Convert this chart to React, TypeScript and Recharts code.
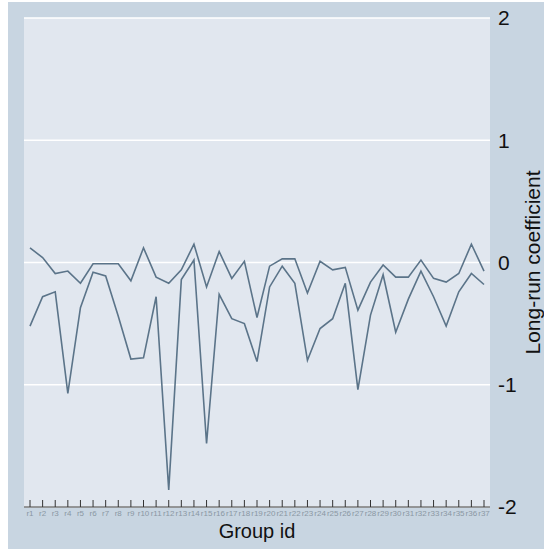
import { LineChart, Line, XAxis, YAxis, CartesianGrid, Label } from "recharts";

const groups = [
  "r1", "r2", "r3", "r4", "r5", "r6", "r7", "r8", "r9", "r10",
  "r11", "r12", "r13", "r14", "r15", "r16", "r17", "r18", "r19", "r20",
  "r21", "r22", "r23", "r24", "r25", "r26", "r27", "r28", "r29", "r30",
  "r31", "r32", "r33", "r34", "r35", "r36", "r37",
];

const upperCoef = [
  0.12, 0.04, -0.09, -0.07, -0.17, -0.01, -0.01, -0.01, -0.15, 0.12,
  -0.12, -0.17, -0.06, 0.15, -0.2, 0.09, -0.13, 0.01, -0.45, -0.03,
  0.03, 0.03, -0.25, 0.01, -0.06, -0.04, -0.39, -0.16, -0.02, -0.12,
  -0.12, 0.02, -0.13, -0.16, -0.09, 0.15, -0.07,
];

const lowerCoef = [
  -0.52, -0.28, -0.24, -1.07, -0.37, -0.08, -0.11, -0.44, -0.79, -0.78,
  -0.28, -1.86, -0.14, 0.02, -1.48, -0.26, -0.46, -0.5, -0.81, -0.2,
  -0.03, -0.17, -0.8, -0.54, -0.46, -0.17, -1.04, -0.43, -0.1, -0.57,
  -0.3, -0.07, -0.28, -0.52, -0.24, -0.09, -0.18,
];

const yTicks = [-2, -1, 0, 1, 2];

const data = groups.map((id, i) => ({
  id,
  upper: upperCoef[i],
  lower: lowerCoef[i],
}));

const FONT = "'Liberation Sans', Arial, sans-serif";
const LINE = "#5b7489";

const GroupTick = (props: any) => {
  const { x, y, payload } = props;
  return (
    <g>
      <line x1={x} x2={x} y1={y - 7} y2={y} stroke="#333" strokeWidth={1} />
      <text
        x={x}
        y={y + 6}
        textAnchor="middle"
        dominantBaseline="central"
        fontSize={8}
        fill="#8a97a3"
        fontFamily={FONT}
      >
        {payload.value}
      </text>
    </g>
  );
};

const YTitle = (props: any) => {
  const { viewBox } = props;
  const cx = viewBox.x + 42;
  const cy = viewBox.y + viewBox.height / 2;
  return (
    <text
      x={cx}
      y={cy}
      transform={`rotate(-90 ${cx} ${cy})`}
      textAnchor="middle"
      dominantBaseline="central"
      fontSize={21}
      fill="#111"
      fontFamily={FONT}
    >
      Long-run coefficient
    </text>
  );
};

const XTitle = (props: any) => {
  const { viewBox } = props;
  const cx = viewBox.x + viewBox.width / 2;
  const cy = viewBox.y + 24;
  return (
    <text
      x={cx}
      y={cy}
      textAnchor="middle"
      dominantBaseline="central"
      fontSize={20}
      fill="#111"
      fontFamily={FONT}
    >
      Group id
    </text>
  );
};

export default function App() {
  return (
    <div
      style={{
        position: "absolute",
        left: 8,
        top: 2,
        width: 536,
        height: 547,
        background: "#c8d5e1",
      }}
    >
      <LineChart
        width={536}
        height={547}
        data={data}
        margin={{ top: 16, right: 0, left: 16, bottom: 0 }}
      >
        <CartesianGrid
          vertical={false}
          stroke="#ffffff"
          strokeWidth={1.5}
          fill="#e1e7ef"
          fillOpacity={1}
        />
        <XAxis
          dataKey="id"
          interval={0}
          height={42}
          padding={{ left: 6, right: 6 }}
          tickSize={0}
          tickMargin={0}
          tickLine={false}
          axisLine={{ stroke: "#333", strokeWidth: 1 }}
          tick={<GroupTick />}
        >
          <Label content={<XTitle />} />
        </XAxis>
        <YAxis
          orientation="right"
          width={54}
          domain={[-2, 2]}
          ticks={yTicks}
          interval={0}
          axisLine={false}
          tickLine={false}
          tickSize={0}
          tickMargin={8}
          tick={{ fill: "#111", fontSize: 21, fontFamily: FONT }}
        >
          <Label content={<YTitle />} />
        </YAxis>
        <Line
          dataKey="upper"
          stroke={LINE}
          strokeWidth={1.6}
          dot={false}
          isAnimationActive={false}
        />
        <Line
          dataKey="lower"
          stroke={LINE}
          strokeWidth={1.6}
          dot={false}
          isAnimationActive={false}
        />
      </LineChart>
    </div>
  );
}
